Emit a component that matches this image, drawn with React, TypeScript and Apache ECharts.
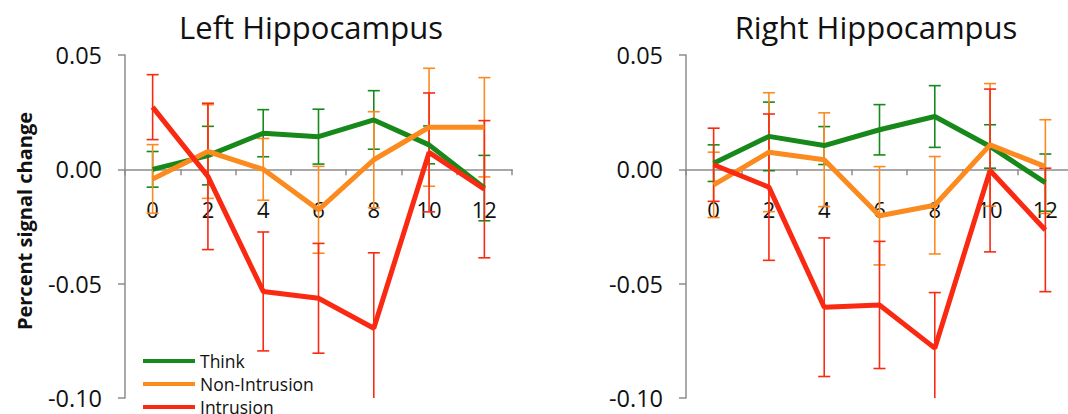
import React, { useEffect, useRef } from "react";
import * as echarts from "echarts";

// Time points (s)
const categories = ["0", "2", "4", "6", "8", "10", "12"];
const seriesNames = ["Think", "Non-Intrusion", "Intrusion"];
const panelTitles = ["Left Hippocampus", "Right Hippocampus"];

// Left hippocampus: means and error-bar half-lengths
const leftThink = [0.0, 0.006, 0.0158, 0.0143, 0.0216, 0.0107, -0.0082];
const leftThinkErr = [0.0078, 0.0128, 0.0103, 0.012, 0.0128, 0.0083, 0.0143];
const leftNon = [-0.0042, 0.0078, 0.0, -0.0177, 0.0042, 0.0184, 0.0184];
const leftNonErr = [0.015, 0.0205, 0.0135, 0.019, 0.021, 0.0258, 0.0217];
const leftIntr = [0.0272, -0.0031, -0.0534, -0.0564, -0.0695, 0.0074, -0.0087];
const leftIntrErr = [0.0142, 0.032, 0.026, 0.024, 0.033, 0.026, 0.03];

// Right hippocampus
const rightThink = [0.0027, 0.0144, 0.0104, 0.0173, 0.0231, 0.01, -0.0058];
const rightThinkErr = [0.008, 0.015, 0.0083, 0.011, 0.0135, 0.0095, 0.0125];
const rightNon = [-0.0068, 0.0075, 0.0042, -0.0203, -0.0157, 0.0107, 0.0012];
const rightNonErr = [0.0143, 0.026, 0.0205, 0.0215, 0.0213, 0.0268, 0.0205];
const rightIntr = [0.002, -0.0078, -0.0603, -0.0593, -0.0782, -0.0005, -0.0265];
const rightIntrErr = [0.016, 0.032, 0.0303, 0.0278, 0.0243, 0.0356, 0.027];

const yMin = -0.1;
const yMax = 0.05;
const yInterval = 0.05;

const COLORS = ["#17891a", "#fb8a1f", "#fa2a12"];
const FONT = "'Open Sans', 'Noto Sans', sans-serif";
const AXIS_GRAY = "#8c8c8c";

const panels = [
  {
    means: [leftThink, leftNon, leftIntr],
    errs: [leftThinkErr, leftNonErr, leftIntrErr],
  },
  {
    means: [rightThink, rightNon, rightIntr],
    errs: [rightThinkErr, rightNonErr, rightIntrErr],
  },
];

const errorBarRender = (color: string) => (params: any, api: any) => {
  const i = api.value(0);
  const lo = api.value(1);
  const hi = api.value(2);
  const pTop = api.coord([i, hi]);
  const pBot = api.coord([i, lo]);
  const cs = params.coordSys;
  const minY = cs.y;
  const maxY = cs.y + cs.height;
  const x = pTop[0];
  let y1 = pTop[1];
  let y2 = pBot[1];
  const capTop = y1 >= minY - 0.5;
  const capBot = y2 <= maxY + 0.5;
  y1 = Math.max(y1, minY);
  y2 = Math.min(y2, maxY);
  const hw = 6;
  const style = { stroke: color, lineWidth: 1.6 };
  const children: any[] = [
    { type: "line", shape: { x1: x, y1, x2: x, y2 }, style },
  ];
  if (capTop)
    children.push({ type: "line", shape: { x1: x - hw, y1, x2: x + hw, y2: y1 }, style });
  if (capBot)
    children.push({ type: "line", shape: { x1: x - hw, y1: y2, x2: x + hw, y2 }, style });
  return { type: "group", children };
};

export default function App() {
  const ref = useRef<HTMLDivElement>(null);

  useEffect(() => {
    document.body.style.margin = "0";
    if (!ref.current) return;
    const chart = echarts.init(ref.current, undefined, { renderer: "svg" });

    const GRID_TOP = 55;
    const GRID_H = 343;
    // distance from the grid bottom up to the zero line
    const zeroOffset = -(GRID_H * (0 - yMin)) / (yMax - yMin);

    const grids = [
      { left: 125, top: GRID_TOP, width: 387, height: GRID_H, outerBoundsMode: "none", containLabel: false },
      { left: 686, top: GRID_TOP, width: 387, height: GRID_H, outerBoundsMode: "none", containLabel: false },
    ];

    const xAxes = grids.map((_, gi) => ({
      type: "category",
      gridIndex: gi,
      position: "bottom",
      offset: zeroOffset,
      data: categories,
      boundaryGap: true,
      axisLine: { onZero: false, lineStyle: { color: AXIS_GRAY, width: 1.5 } },
      axisTick: { show: true, length: 6, alignWithLabel: false, lineStyle: { color: AXIS_GRAY, width: 1.5 } },
      axisLabel: { margin: 29, fontSize: 22, color: "#111", fontFamily: FONT, hideOverlap: false },
      splitLine: { show: false },
      z: 1,
    }));

    const yAxes = grids.map((_, gi) => ({
      type: "value",
      gridIndex: gi,
      min: yMin,
      max: yMax,
      interval: yInterval,
      axisLine: { show: true, lineStyle: { color: AXIS_GRAY, width: 1.5 } },
      axisTick: { show: true, length: 7, lineStyle: { color: AXIS_GRAY, width: 1.5 } },
      axisLabel: {
        margin: 23,
        fontSize: 23.5,
        color: "#111",
        fontFamily: FONT,
        formatter: (v: number) => (Math.abs(v) < 1e-9 ? 0 : v).toFixed(2),
      },
      splitLine: { show: false },
    }));

    const series: any[] = [];
    panels.forEach((p, pi) => {
      p.means.forEach((m, si) => {
        series.push({
          type: "custom",
          name: seriesNames[si] + " error",
          xAxisIndex: pi,
          yAxisIndex: pi,
          data: m.map((v, i) => [i, v - p.errs[si][i], v + p.errs[si][i]]),
          encode: { x: 0, y: [1, 2] },
          renderItem: errorBarRender(COLORS[si]),
          z: 2 + si,
          silent: true,
        });
      });
      p.means.forEach((m, si) => {
        series.push({
          type: "line",
          name: seriesNames[si],
          xAxisIndex: pi,
          yAxisIndex: pi,
          data: m,
          symbol: "none",
          showSymbol: false,
          color: COLORS[si],
          lineStyle: { color: COLORS[si], width: 5 },
          z: 5 + si,
          silent: true,
        });
      });
    });

    const textStyle = (text: string, fontSize: number, extra: any = {}) => ({
      text,
      fontSize,
      fontFamily: FONT,
      fill: "#111",
      ...extra,
    });

    const graphic: any[] = [
      {
        type: "text",
        x: 311,
        y: 27,
        style: textStyle(panelTitles[0], 31, { align: "center", verticalAlign: "middle" }),
      },
      {
        type: "text",
        x: 876,
        y: 27,
        style: textStyle(panelTitles[1], 31, { align: "center", verticalAlign: "middle" }),
      },
      {
        type: "text",
        x: 24,
        y: 221,
        rotation: Math.PI / 2,
        style: textStyle("Percent signal change", 20, {
          fontWeight: "bold",
          align: "center",
          verticalAlign: "middle",
        }),
      },
    ];

    // Legend (drawn as graphic so it may run past the bottom edge like the reference)
    const LEG_X = 143;
    const LEG_Y0 = 361;
    const LEG_STEP = 23;
    seriesNames.forEach((name, si) => {
      const y = LEG_Y0 + si * LEG_STEP;
      graphic.push({
        type: "line",
        shape: { x1: LEG_X, y1: y, x2: LEG_X + 52, y2: y },
        style: { stroke: COLORS[si], lineWidth: 4 },
        z: 10,
      });
      graphic.push({
        type: "text",
        x: LEG_X + 57,
        y,
        style: textStyle(name, 17.5, { align: "left", verticalAlign: "middle" }),
        z: 10,
      });
    });

    chart.setOption({
      animation: false,
      backgroundColor: "#ffffff",
      grid: grids,
      xAxis: xAxes,
      yAxis: yAxes,
      graphic,
      series,
    });

    return () => chart.dispose();
  }, []);

  return <div ref={ref} style={{ width: 1068, height: 414 }} />;
}
